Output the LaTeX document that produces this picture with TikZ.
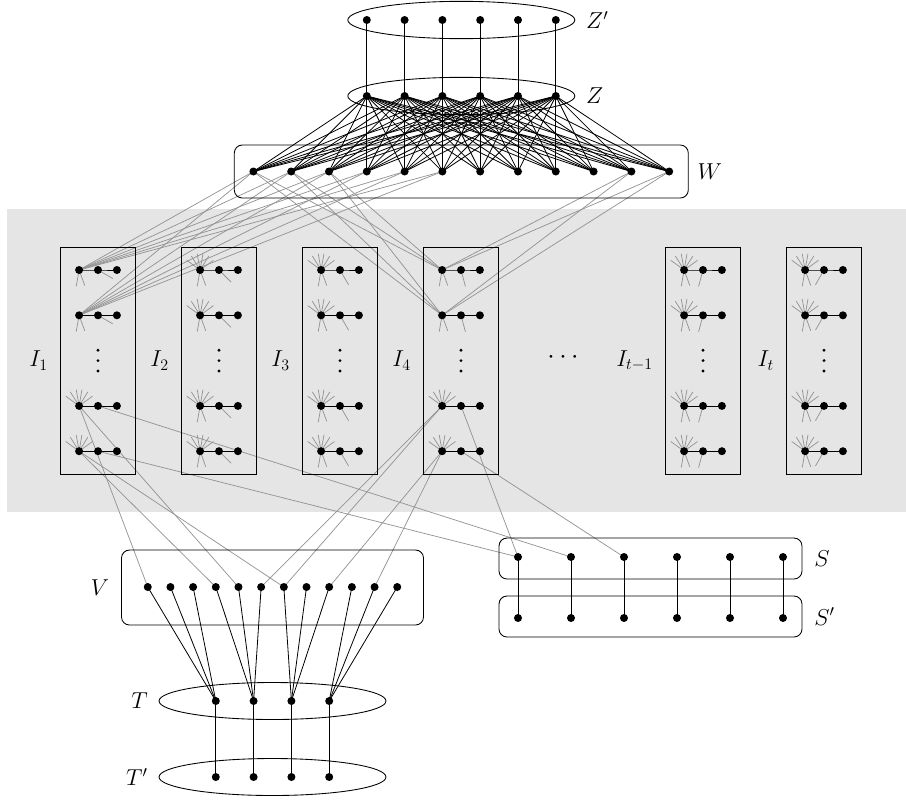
\documentclass[tikz,border=0pt]{standalone}
\usepackage{graphicx}
\usetikzlibrary{shapes.geometric,calc}
\pgfdeclarelayer{band}
\pgfdeclarelayer{edges}
\pgfsetlayers{band,edges,main}
\begin{document}
\begin{tikzpicture}[x=0.75pt,y=-0.75pt,
  dot/.style={circle,fill=black,inner sep=0pt,minimum size=6pt},
  vdot/.style={circle,fill=black,inner sep=0pt,minimum size=2.4pt},
  gline/.style={black!42,line width=0.55pt},
  bline/.style={black,line width=0.6pt},
  rbox/.style={draw,rounded corners=6pt,inner sep=0pt,line width=0.65pt},
  ibox/.style={draw,inner sep=0pt,minimum width=56.7pt,minimum height=170.1pt,line width=0.65pt},
  ell/.style={draw,ellipse,inner sep=0pt,minimum width=170.25pt,minimum height=28pt,line width=0.65pt},
  lab/.style={inner sep=0.5pt,font=\LARGE}]
\useasboundingbox (0,0) rectangle (906,800);
\begin{pgfonlayer}{band}
  \fill[black!10] (7,209) rectangle (906,512);
\end{pgfonlayer}
% ---------- top: Z', Z, W ----------
\foreach \i in {1,...,6} {
  \node[dot] (Zp\i) at ({461.3+37.8*(\i-3.5)},20) {};
  \node[dot] (Z\i) at ({461.3+37.8*(\i-3.5)},96) {};
}
\foreach \j in {1,...,12} \node[dot] (W\j) at ({461.3+37.8*(\j-6.5)},171.5) {};
\node[ell] (Zpe) at (461.3,20) {};
\node[ell] (Ze) at (461.3,96) {};
\node[rbox,minimum width=340.5pt,minimum height=39.75pt] (Wb) at (461.3,171.5) {};
\node[lab,anchor=west] (Zplab) at ($(Zpe.east)+(10,0)$) {$Z'$};
\node[lab,anchor=west] (Zlab) at ($(Ze.east)+(10,0)$) {$Z$};
\node[lab,anchor=west] (Wlab) at ($(Wb.east)+(8,0)$) {$W$};
\begin{pgfonlayer}{edges}
\foreach \i in {1,...,6} {
  \draw[bline] (Zp\i.center) -- (Z\i.center);
  \foreach \j in {1,...,12} \draw[bline] (Z\i.center) -- (W\j.center);
}
\end{pgfonlayer}
% ---------- I boxes ----------
\foreach \p/\nm in {1/1,2/2,3/3,4/4,6/{t-1},7/t} {
  \pgfmathsetmacro\mx{98+121*(\p-1)}
  \pgfmathsetmacro\ma{-15-15*\p}
  \pgfmathtruncatemacro\spc{(\p==1 || \p==4) ? 1 : 0}
  \node[ibox] (B\p) at (\mx,360.6) {};
  \node[lab,anchor=east] (Blab\p) at ($(B\p.west)+(-11,0)$) {$I_{\nm}$};
  \foreach \k/\yy in {1/350.2,2/360.6,3/371} \node[vdot] (Bd\p-\k) at (\mx,\yy) {};
  \foreach \r/\y in {1/270,2/315.3,4/405.9,5/451.2} {
    \node[dot] (I\p-\r-a) at ({\mx-18.9},\y) {};
    \node[dot] (I\p-\r-b) at (\mx,\y) {};
    \node[dot] (I\p-\r-c) at ({\mx+18.9},\y) {};
    \pgfmathtruncatemacro\hasup{(\spc==1 && \r<3) ? 0 : 1}
    \pgfmathtruncatemacro\hasdn{(\spc==1 && \r>3) ? 0 : 1}
    \begin{pgfonlayer}{edges}
      \draw[bline] (I\p-\r-a.center) -- (I\p-\r-b.center) -- (I\p-\r-c.center);
      \ifnum\hasup=1
        \foreach \a in {36,58,80,100,122,144} \draw[gline] (I\p-\r-a.center) -- ++(\a:12.4pt);
      \fi
      \ifnum\hasdn=1
        \draw[gline] (I\p-\r-a.center) -- ++(-100:12.4pt);
        \draw[gline] (I\p-\r-a.center) -- ++(-70:12.4pt);
        \draw[gline] (I\p-\r-b.center) -- ++(\ma:12.8pt);
      \fi
    \end{pgfonlayer}
  }
}
\node[inner sep=0pt] (hdots) at (563,358) {\scalebox{2}{$\cdots$}};
% ---------- V, T, T' ----------
\foreach \j in {1,...,12} \node[dot] (V\j) at ({272.5+22.68*(\j-6.5)},587) {};
\foreach \i in {1,...,4} {
  \node[dot] (T\i) at ({272.5+37.8*(\i-2.5)},701) {};
  \node[dot] (Tp\i) at ({272.5+37.8*(\i-2.5)},777) {};
}
\node[rbox,minimum width=226.5pt,minimum height=56.25pt] (Vb) at (272.5,587.5) {};
\node[ell,minimum height=27.75pt] (Te) at (272.5,701) {};
\node[ell,minimum height=27.75pt] (Tpe) at (272.5,777) {};
\node[lab,anchor=east] (Vlab) at ($(Vb.west)+(-11,0)$) {$V$};
\node[lab,anchor=east] (Tlab) at ($(Te.west)+(-10,0)$) {$T$};
\node[lab,anchor=east] (Tplab) at ($(Tpe.west)+(-10,0)$) {$T'$};
% ---------- S, S' ----------
\foreach \i in {1,...,6} {
  \node[dot] (S\i) at ({518+53*(\i-1)},557) {};
  \node[dot] (Sp\i) at ({518+53*(\i-1)},618) {};
}
\node[rbox,minimum width=227.25pt,minimum height=30.75pt] (Sb) at (650.5,558.5) {};
\node[rbox,minimum width=227.25pt,minimum height=30.75pt] (Spb) at (650.5,616.5) {};
\node[lab,anchor=west] (Slab) at ($(Sb.east)+(11,0)$) {$S$};
\node[lab,anchor=west] (Splab) at ($(Spb.east)+(11,0)$) {$S'$};
% ---------- edges ----------
\begin{pgfonlayer}{edges}
\foreach \i in {1,...,4} \draw[bline] (T\i.center) -- (Tp\i.center);
\foreach \j in {1,...,12} {
  \pgfmathtruncatemacro\tt{int((\j-1)/3)+1}
  \draw[bline] (V\j.center) -- (T\tt.center);
}
\foreach \i in {1,...,6} \draw[bline] (S\i.center) -- (Sp\i.center);
\foreach \r in {1,2} {
  \foreach \j in {1,...,6} \draw[gline] (I1-\r-a.center) -- (W\j.center);
  \foreach \j in {1,2,3,11,12} \draw[gline] (I4-\r-a.center) -- (W\j.center);
}
\draw[gline] (I1-4-a.center) -- (V1.center);
\draw[gline] (I1-4-a.center) -- (V5.center);
\draw[gline] (I1-5-a.center) -- (V4.center);
\draw[gline] (I1-5-a.center) -- (V7.center);
\draw[gline] (I4-4-a.center) -- (V6.center);
\draw[gline] (I4-4-a.center) -- (V7.center);
\draw[gline] (I4-5-a.center) -- (V9.center);
\draw[gline] (I4-5-a.center) -- (V11.center);
\draw[gline] (I1-4-b.center) -- (S2.center);
\draw[gline] (I1-5-b.center) -- (S1.center);
\draw[gline] (I4-4-b.center) -- (S1.center);
\draw[gline] (I4-5-b.center) -- (S3.center);
\end{pgfonlayer}
\end{tikzpicture}
\end{document}
